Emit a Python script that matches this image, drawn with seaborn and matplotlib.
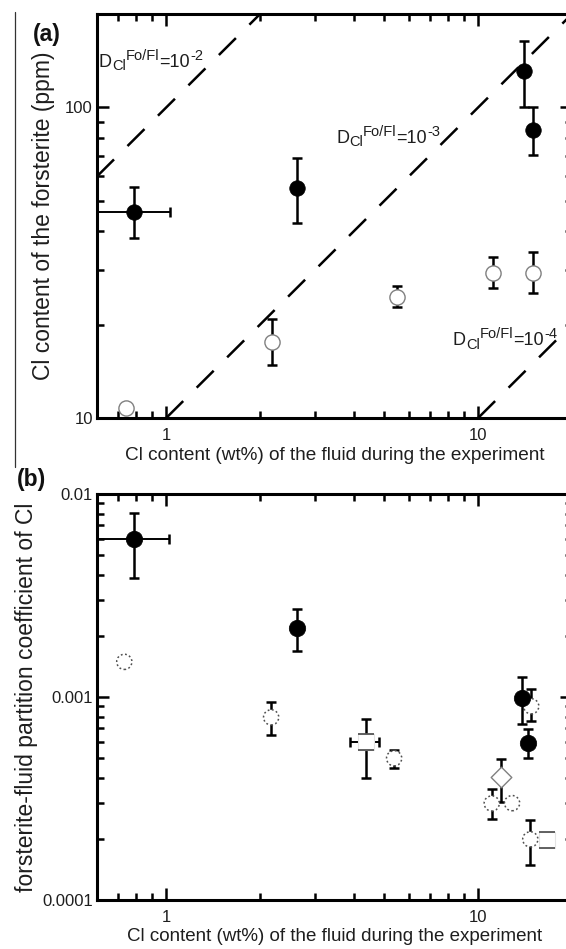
import numpy as np
import matplotlib
matplotlib.use("Agg")
import matplotlib.pyplot as plt
import seaborn as sns
from matplotlib.path import Path
from matplotlib.lines import Line2D
from matplotlib.ticker import FixedLocator, FixedFormatter, LogLocator, NullFormatter

# ---------------- data ----------------
# panel (a): Cl in forsterite (ppm) vs Cl in fluid (wt%)
a_filled_x = [0.79, 2.63, 14.0, 15.0]
a_filled_y = [46.0, 55.0, 131.0, 84.5]
a_filled_ylo = [38.0, 42.6, 100.5, 70.2]
a_filled_yhi = [55.6, 68.5, 163.6, 100.5]
a_filled_xlo = [0.57, np.nan, np.nan, np.nan]
a_filled_xhi = [1.03, np.nan, np.nan, np.nan]

a_open_x = [0.743, 2.19, 5.49, 11.2, 15.0]
a_open_y = [10.74, 17.6, 24.5, 29.4, 29.4]
a_open_ylo = [np.nan, 14.8, 22.8, 26.2, 25.2]
a_open_yhi = [np.nan, 20.8, 26.7, 33.1, 34.2]

# partition-coefficient reference lines
d_values = [1e-2, 1e-3, 1e-4]
d_exponents = ["-2", "-3", "-4"]
d_line_x = [[0.6, 2.0], [1.0, 20.0], [10.0, 20.0]]

# panel (b): partition coefficient vs Cl in fluid (wt%)
b_filled_x = [0.79, 2.63, 13.8, 14.5]
b_filled_y = [0.0060, 0.00218, 0.00099, 0.000596]
b_filled_ylo = [0.00385, 0.00169, 0.00074, 0.000499]
b_filled_yhi = [0.0081, 0.0027, 0.00125, 0.000695]
b_filled_xlo = [0.57, np.nan, np.nan, np.nan]
b_filled_xhi = [1.02, np.nan, np.nan, np.nan]

b_open_x = [0.734, 2.17, 5.38, 11.06, 12.85, 14.7, 14.8]
b_open_y = [0.00149, 0.000794, 0.000499, 0.000299, 0.0003, 0.000199, 0.0009]
b_open_ylo = [np.nan, 0.00065, 0.000449, 0.00025, np.nan, 0.000149, 0.00076]
b_open_yhi = [np.nan, 0.00095, 0.000548, 0.000351, np.nan, 0.000248, 0.0011]

b_diamond_x = [11.8]
b_diamond_y = [0.000402]
b_diamond_ylo = [0.000303]
b_diamond_yhi = [0.000495]

b_square_x = [4.36, 16.6]
b_square_y = [0.0006, 0.000198]
b_square_ylo = [0.000398, np.nan]
b_square_yhi = [0.000776, np.nan]
b_square_xlo = [3.88, np.nan]
b_square_xhi = [4.82, np.nan]

x_ticks = [1, 10]
x_ticklabels = ["1", "10"]
a_yticks = [10, 100]
a_yticklabels = ["10", "100"]
b_yticks = [0.0001, 0.001, 0.01]
b_yticklabels = ["0.0001", "0.001", "0.01"]

xlabel = "Cl content (wt%) of the fluid during the experiment"
a_ylabel = "Cl content of the forsterite (ppm)"
b_ylabel = "forsterite-fluid partition coefficient of Cl"

# ---------------- style ----------------
sns.set_theme(style="ticks")
plt.rcParams["font.family"] = ["Liberation Sans", "DejaVu Sans"]

TXT = "#1e1e1e"
W, H = 566, 949
fig = plt.figure(figsize=(W / 100, H / 100), dpi=100)
fig.patch.set_facecolor("white")


def px_rect(l, t, r, b):
    return [l / W, 1 - b / H, (r - l) / W, (b - t) / H]


AX_L, AX_R = 97, 572
ax_a = fig.add_axes(px_rect(AX_L, 14, AX_R, 418))
ax_b = fig.add_axes(px_rect(AX_L, 494, AX_R, 900))

ELW = 1.8
CAP = 3.3


def draw_err(ax, x, y, ylo, yhi, xlo=None, xhi=None, z=2):
    for i in range(len(x)):
        if not np.isnan(ylo[i]):
            ax.errorbar([x[i]], [y[i]], yerr=[[y[i] - ylo[i]], [yhi[i] - y[i]]],
                        fmt="none", ecolor="black", elinewidth=ELW, capsize=CAP,
                        capthick=ELW, zorder=z)
        if xlo is not None and not np.isnan(xlo[i]):
            ax.errorbar([x[i]], [y[i]], xerr=[[x[i] - xlo[i]], [xhi[i] - x[i]]],
                        fmt="none", ecolor="black", elinewidth=1.4, capsize=CAP,
                        capthick=ELW, zorder=z)


def style_axes(ax, yticks, yticklabels, ylim):
    ax.set_xscale("log")
    ax.set_yscale("log")
    ax.set_xlim(0.6, 20)
    ax.set_ylim(*ylim)
    ax.xaxis.set_major_locator(FixedLocator(x_ticks))
    ax.xaxis.set_major_formatter(FixedFormatter(x_ticklabels))
    ax.xaxis.set_minor_locator(LogLocator(base=10, subs=np.arange(2, 10)))
    ax.xaxis.set_minor_formatter(NullFormatter())
    ax.yaxis.set_major_locator(FixedLocator(yticks))
    ax.yaxis.set_major_formatter(FixedFormatter(yticklabels))
    ax.yaxis.set_minor_locator(LogLocator(base=10, subs=np.arange(2, 10)))
    ax.yaxis.set_minor_formatter(NullFormatter())
    ax.tick_params(which="both", direction="in", top=True, right=True,
                   width=1.8, color="black", labelsize=12, labelcolor=TXT)
    ax.tick_params(which="major", length=8.5)
    ax.tick_params(which="minor", length=5)
    ax.tick_params(axis="x", pad=7.5)
    ax.tick_params(axis="y", pad=3)
    for s in ax.spines.values():
        s.set_linewidth(2.2)
        s.set_color("black")
    ax.set_facecolor("white")
    ax.grid(False)


renderer = fig.canvas.get_renderer()


def rich_text(x_px, base_px, pieces):
    """pieces: (text, fontsize, vertical offset px, advance?)"""
    x = x_px
    for txt, size, dy, adv in pieces:
        t = fig.text(x / W, 1 - (base_px + dy) / H, txt, fontsize=size,
                     color=TXT, ha="left", va="baseline")
        if adv:
            x += t.get_window_extent(renderer).width


# ---------------- panel (a) ----------------
ax = ax_a
style_axes(ax, a_yticks, a_yticklabels, (10, 200))
for d, xs in zip(d_values, d_line_x):
    xs = np.array(xs)
    ax.plot(xs, xs * d * 1e4, color="black", lw=1.8,
            linestyle=(0, (9.6, 7.6)), zorder=1)

draw_err(ax, a_filled_x, a_filled_y, a_filled_ylo, a_filled_yhi,
         a_filled_xlo, a_filled_xhi)
draw_err(ax, a_open_x, a_open_y, a_open_ylo, a_open_yhi)
sns.scatterplot(x=a_open_x, y=a_open_y, ax=ax, s=120, color="white",
                edgecolor="#808080", linewidth=1.0, zorder=3, legend=False)
sns.scatterplot(x=a_filled_x, y=a_filled_y, ax=ax, s=125, color="black",
                edgecolor="black", linewidth=0.5, zorder=4, legend=False)

ax.set_xlabel(xlabel, fontsize=13.7, color=TXT)
ax.xaxis.set_label_coords(0.5, (418 - 447) / 404)
ax.set_ylabel(a_ylabel, fontsize=16.5, color=TXT)
ax.yaxis.set_label_coords((55 - AX_L) / (AX_R - AX_L), 0.5)

label_pos = [(99, 67), (336, 143), (453, 345)]
for exp, (lx, ly) in zip(d_exponents, label_pos):
    rich_text(lx, ly, [("D", 13, 0, True),
                       ("Cl", 10.5, 3.5, True),
                       ("Fo/Fl", 10.5, -6.8, True),
                       ("=10", 13, 0, True),
                       (exp, 10.5, -6.8, True)])

# ---------------- panel (b) ----------------
ax = ax_b
style_axes(ax, b_yticks, b_yticklabels, (0.0001, 0.01))

draw_err(ax, b_open_x, b_open_y, b_open_ylo, b_open_yhi)
sns.scatterplot(x=b_open_x, y=b_open_y, ax=ax, s=120, color="white",
                edgecolor="#505050", linewidth=1.1, linestyle=(0, (1.2, 1.6)),
                zorder=3, legend=False)

draw_err(ax, b_diamond_x, b_diamond_y, b_diamond_ylo, b_diamond_yhi)
sns.scatterplot(x=b_diamond_x, y=b_diamond_y, ax=ax, s=110, marker="D",
                color="white", edgecolor="#808080", linewidth=1.0,
                zorder=3, legend=False)

draw_err(ax, b_square_x, b_square_y, b_square_ylo, b_square_yhi,
         b_square_xlo, b_square_xhi)
sns.scatterplot(x=b_square_x, y=b_square_y, ax=ax, s=130, marker="s",
                color="white", edgecolor="#e4e4e4", linewidth=0.8,
                zorder=3, legend=False)
edge_path = Path([(-1, 1), (1, 1), (-1, -1), (1, -1)],
                 [Path.MOVETO, Path.LINETO, Path.MOVETO, Path.LINETO])
ax.scatter(b_square_x, b_square_y, s=130, marker=edge_path,
           facecolors="none", edgecolors="#555555", linewidths=1.3, zorder=3.5)

draw_err(ax, b_filled_x, b_filled_y, b_filled_ylo, b_filled_yhi,
         b_filled_xlo, b_filled_xhi, z=3.6)
sns.scatterplot(x=b_filled_x, y=b_filled_y, ax=ax, s=140, color="black",
                edgecolor="black", linewidth=0.5, zorder=4, legend=False)

ax.set_xlabel(xlabel, fontsize=13.5, color=TXT)
ax.xaxis.set_label_coords(0.5, (900 - 928) / 406)
ax.set_ylabel(b_ylabel, fontsize=16.5, color=TXT)
ax.yaxis.set_label_coords((38 - AX_L) / (AX_R - AX_L), 0.5)

# panel letters
fig.text(47 / W, 1 - 34 / H, "(a)", fontsize=16.5, fontweight="bold",
         ha="center", va="center", color="#111111")
fig.text(31 / W, 1 - 479 / H, "(b)", fontsize=16.5, fontweight="bold",
         ha="center", va="center", color="#111111")

# thin border line at left of panel (a)
fig.add_artist(Line2D([15 / W, 15 / W], [1 - 12 / H, 1 - 467 / H],
                      color="#333333", lw=0.9))

fig.savefig("out.png", dpi=100, facecolor="white")
